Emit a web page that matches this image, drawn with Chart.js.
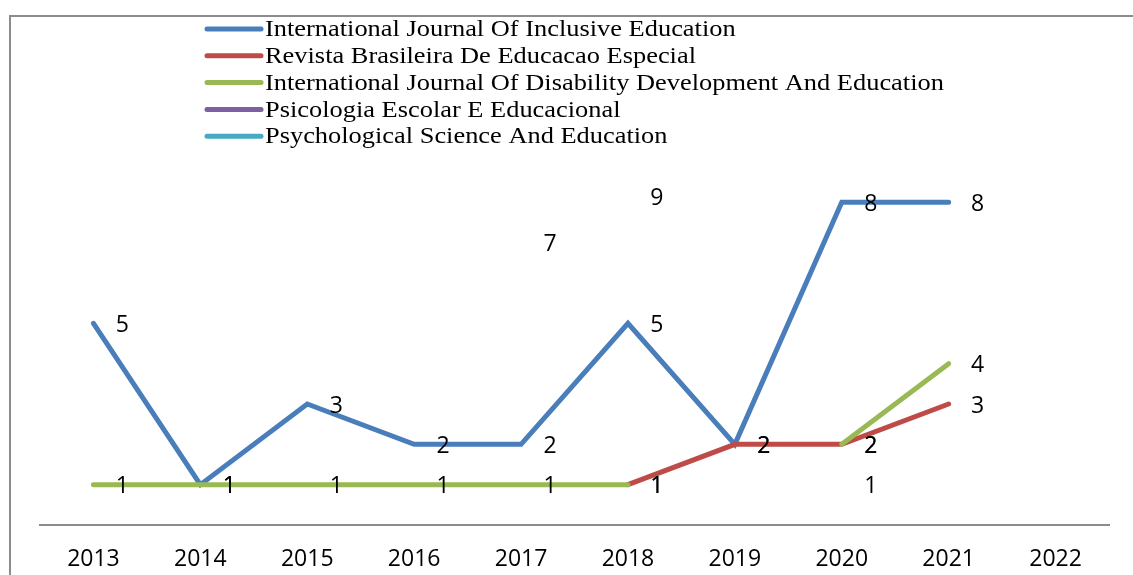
<!DOCTYPE html>
<html>
<head>
<meta charset="utf-8">
<script src="https://cdn.jsdelivr.net/npm/chart.js@4/dist/chart.umd.min.js"></script>
<style>
  html, body { margin: 0; padding: 0; background: #fff; }
  #wrap { width: 1133px; height: 575px; position: relative; }
</style>
</head>
<body>
<div id="wrap"><canvas id="journals-chart"></canvas></div>
<script>
const years = ['2013', '2014', '2015', '2016', '2017', '2018', '2019', '2020', '2021', '2022'];

const journalNames = [
    'International Journal Of Inclusive Education',
    'Revista Brasileira De Educacao Especial',
    'International Journal Of Disability Development And Education',
    'Psicologia Escolar E Educacional',
    'Psychological Science And Education'
];

const inclusiveEdu = [5, 1, 3, 2, 2, 5, 2, 8, 8, null];
const revistaBrasileira = [null, null, null, null, null, 1, 2, 2, 3, null];
const disabilityDev = [1, 1, 1, 1, 1, 1, null, 2, 4, null];
const psicologiaEscolar = [null, null, null, null, 7, null, null, null, null, null];
const psychScience = [null, null, null, null, null, 9, null, 1, null, null];

const lineColors = ['#4a7ebb', '#be4b48', '#98b954', '#7d60a0', '#46aac5'];

const LABEL_FONT = '23px "Open Sans"';

// frame round the whole chart
const framePlugin = {
    id: 'frame',
    beforeDraw(chart) {
        const ctx = chart.ctx;
        ctx.save();
        ctx.fillStyle = '#fff';
        ctx.fillRect(0, 0, chart.width, chart.height);
        ctx.strokeStyle = '#8c8c8c';
        ctx.lineWidth = 2;
        ctx.strokeRect(10, 16, 1200, 700);
        ctx.restore();
    }
};

// legend: one series per row, left aligned
const legendPlugin = {
    id: 'stackedLegend',
    afterDraw(chart) {
        const ctx = chart.ctx;
        ctx.save();
        ctx.font = '24px "Liberation Serif"';
        ctx.textBaseline = 'middle';
        ctx.lineCap = 'round';
        chart.data.datasets.forEach((ds, i) => {
            const y = 29 + i * 26.8;
            ctx.strokeStyle = ds.borderColor;
            ctx.lineWidth = 5;
            ctx.beginPath();
            ctx.moveTo(207, y);
            ctx.lineTo(261, y);
            ctx.stroke();
            ctx.fillStyle = '#000';
            // serif text runs a little wide in this legend
            ctx.save();
            ctx.translate(265, y + 1);
            ctx.scale(1.1, 1);
            ctx.fillText(ds.label, 0, 0);
            ctx.restore();
        });
        ctx.restore();
    }
};

// value labels to the right of each point, kept inside the plot area
const valueLabelPlugin = {
    id: 'valueLabels',
    afterDatasetsDraw(chart) {
        const ctx = chart.ctx;
        const xs = chart.scales.x;
        const ys = chart.scales.y;
        const top = chart.chartArea.top + 9;
        ctx.save();
        ctx.font = LABEL_FONT;
        ctx.fillStyle = '#000';
        ctx.textAlign = 'center';
        ctx.textBaseline = 'middle';
        chart.data.datasets.forEach(ds => {
            ds.data.forEach((v, i) => {
                if (v === null) return;
                const x = xs.getPixelForValue(i) + 29;
                const y = Math.max(ys.getPixelForValue(v) + 2, top);
                ctx.fillText(String(v), x, y);
            });
        });
        ctx.restore();
    }
};

const seriesData = [inclusiveEdu, revistaBrasileira, disabilityDev, psicologiaEscolar, psychScience];
const drawOrder = [3, 2, 1, 0, 0];

const ctx = document.getElementById('journals-chart').getContext('2d');
const journalsChart = new Chart(ctx, {
    type: 'line',
    data: {
        labels: years,
        datasets: seriesData.map((d, i) => ({
            label: journalNames[i],
            data: d,
            borderColor: lineColors[i],
            backgroundColor: lineColors[i],
            borderWidth: 5,
            // single points have no segment, so butt caps keep them unseen
            borderCapStyle: i < 3 ? 'round' : 'butt',
            borderJoinStyle: 'miter',
            pointRadius: 0,
            pointHoverRadius: 0,
            tension: 0,
            spanGaps: false,
            order: drawOrder[i]
        }))
    },
    options: {
        responsive: true,
        maintainAspectRatio: false,
        animation: false,
        layout: {
            padding: { top: 189, left: 40, right: 24, bottom: 0 }
        },
        plugins: {
            legend: { display: false },
            tooltip: { enabled: false }
        },
        scales: {
            x: {
                offset: true,
                grid: { display: false, drawTicks: false },
                border: { display: true, color: '#8c8c8c', width: 2 },
                ticks: {
                    color: '#000',
                    font: { family: 'Open Sans', size: 23 },
                    padding: 21,
                    maxRotation: 0,
                    autoSkip: false
                },
                afterFit(scale) { scale.height = 50; }
            },
            y: {
                display: false,
                min: 0,
                max: 8.33
            }
        }
    },
    plugins: [framePlugin, legendPlugin, valueLabelPlugin]
});
</script>
</body>
</html>
